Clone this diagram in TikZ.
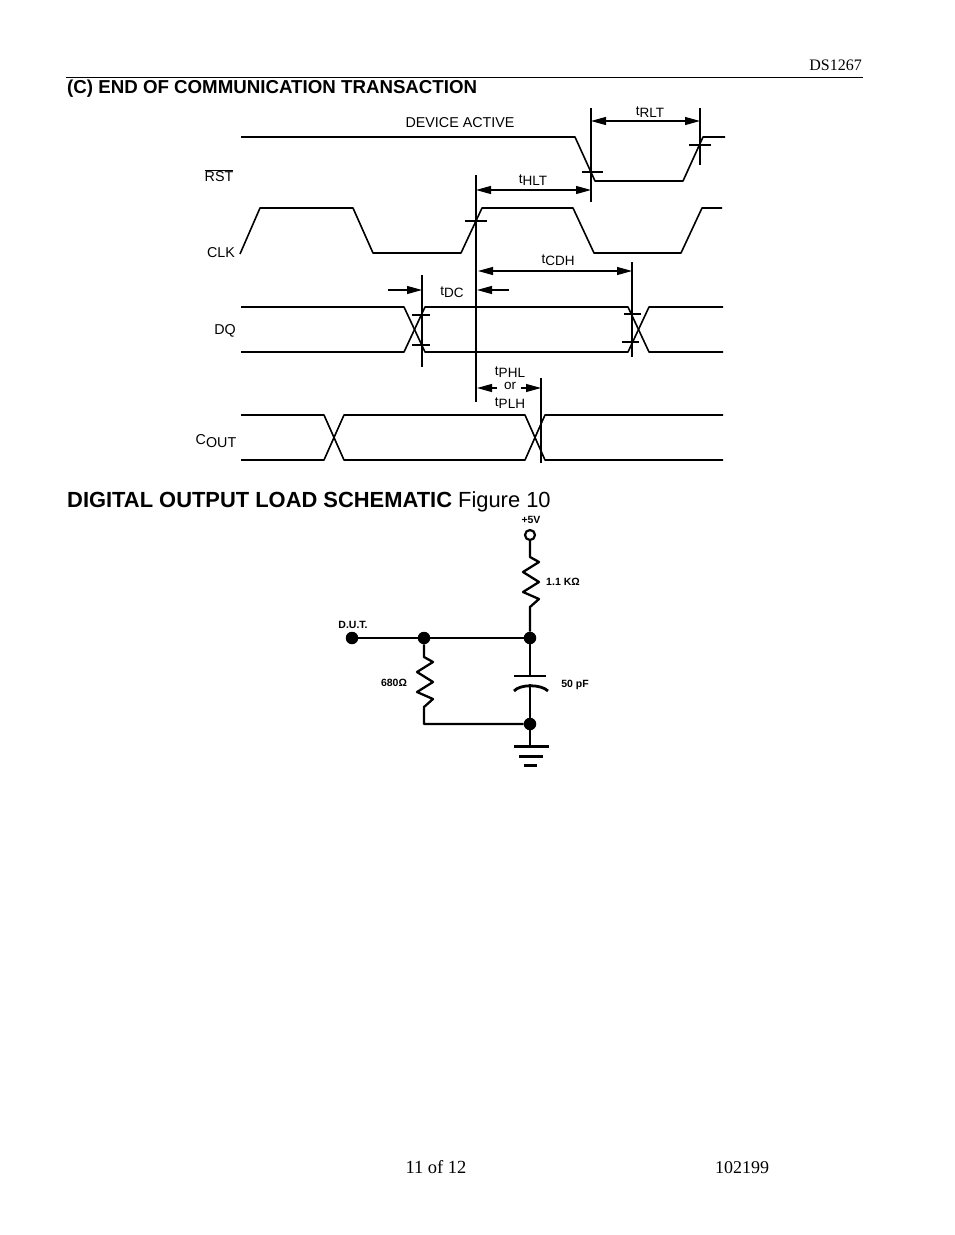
\documentclass[tikz,border=0pt]{standalone}
\usepackage{fontspec}
\setmainfont{Liberation Serif}
\newfontfamily\arialfont{Liberation Sans}
\usetikzlibrary{arrows.meta}
\newcommand{\tsub}[1]{t\raisebox{-2.5pt}{#1}}
\begin{document}
\begin{tikzpicture}[x = 1pt,y = -1pt,
	every node/.style={inner sep = 0pt,text = black},
	wave/.style={line width = 1.6pt,line join = round},
	wire/.style={line width = 2.3pt,line join = round},
	marker/.style={line width = 1.1pt},
	dim/.style={line width = 1.1pt,-{Triangle[length = 15pt,width = 8pt]}},
	dimboth/.style={line width = 1.1pt,{Triangle[length = 15pt,width = 8pt]}-{Triangle[length = 15pt,width = 8pt]}},
	page/.style={font = \fontsize{16}{18}\selectfont},
	head/.style={font = \arialfont\bfseries\fontsize{18.7}{20}\selectfont,anchor = west},
	sig/.style={font = \arialfont\fontsize{14.3}{16}\selectfont},
	tlab/.style={font = \arialfont\fontsize{13.5}{15}\selectfont},
	small/.style={font = \arialfont\bfseries\fontsize{10.5}{12}\selectfont},
	dot/.style={circle,fill = black,minimum size = 12.5pt}]
	
	\useasboundingbox (0,0) rectangle (954,1235);
	
	\node[page,anchor = east] (partno) at (862,65) {DS1267};
	\coordinate (ruleL) at (66,77);
	\coordinate (ruleR) at (863,77);
	\draw[line width = 1pt] (ruleL) -- (ruleR);
	\node[head] (endtitle) at (67,88.5) {(C) END OF COMMUNICATION TRANSACTION};
	\node[head,font = \arialfont\fontsize{21.9}{24}\selectfont] (loadtitle) at (67,502) {\textbf{DIGITAL OUTPUT LOAD SCHEMATIC} Figure 10};
	\node[page,font = \fontsize{18.5}{20}\selectfont,anchor = base] (pagenum) at (436,1173) {11 of 12};
	\node[page,font = \fontsize{18}{20}\selectfont,anchor = base] (datecode) at (742,1173) {102199};
	
	\node[sig] (active) at (460,123) {DEVICE ACTIVE};
	\node[sig] (rst) at (219,176) {$\overline{\mbox{RST}}$};
	\node[sig] (clk) at (221,253) {CLK};
	\node[sig] (dq) at (225,331) {DQ};
	\node[sig] (cout) at (216,441) {C\raisebox{-2.5pt}{OUT}};
	
	\draw[wave] (241,137) -- (575,137) -- (595,181) -- (683,181) -- (703,137) -- (725,137);
	\draw[wave] (240,254) -- (260,208) -- (353,208) -- (373,253) -- (461,253) -- (482,208) -- (573,208) -- (594,253) -- (681,253) -- (702,208) -- (722,208);
	\draw[wave] (241,307) -- (404,307) -- (425,352) -- (628,352) -- (649,307) -- (723,307);
	\draw[wave] (241,352) -- (404,352) -- (425,307) -- (628,307) -- (649,352) -- (723,352);
	\draw[wave] (241,415) -- (324,415) -- (344,460) -- (525,460) -- (545,415) -- (723,415);
	\draw[wave] (241,460) -- (324,460) -- (344,415) -- (525,415) -- (545,460) -- (723,460);
	
	\coordinate (riseT) at (476,175);
	\coordinate (riseB) at (476,402);
	\coordinate (fallT) at (591,108);
	\coordinate (fallB) at (591,202);
	\coordinate (backT) at (700,108);
	\coordinate (backB) at (700,165);
	\coordinate (holdT) at (632,262);
	\coordinate (holdB) at (632,357);
	\coordinate (setupT) at (422,275);
	\coordinate (setupB) at (422,367);
	\coordinate (propT) at (541,378);
	\coordinate (propB) at (541,463);
	\foreach \top/\bot in {riseT/riseB,fallT/fallB,backT/backB,holdT/holdB,setupT/setupB,propT/propB}
		\draw[marker] (\top) -- (\bot);
	
	\foreach \xa/\xb/\yy in {582/603/172,689/711/145,465/487/221,412/430/315,412/430/345,624/641/314,622/639/342}
		\draw[marker] (\xa,\yy) -- (\xb,\yy);
	
	\coordinate (rltL) at (591,121);
	\coordinate (rltR) at (700,121);
	\coordinate (hltL) at (476,190);
	\coordinate (hltR) at (591,190);
	\coordinate (cdhL) at (478,271);
	\coordinate (cdhR) at (632,271);
	\coordinate (dcA) at (388,290);
	\coordinate (dcB) at (422,290);
	\coordinate (dcC) at (509,290);
	\coordinate (dcD) at (477,290);
	\coordinate (phlA) at (497,388);
	\coordinate (phlB) at (477,388);
	\coordinate (phlC) at (521,388);
	\coordinate (phlD) at (541,388);
	\draw[dimboth] (rltL) -- (rltR);
	\draw[dimboth] (hltL) -- (hltR);
	\draw[dimboth] (cdhL) -- (cdhR);
	\draw[dim] (dcA) -- (dcB);
	\draw[dim] (dcC) -- (dcD);
	\draw[dim] (phlA) -- (phlB);
	\draw[dim] (phlC) -- (phlD);
	
	\node[tlab] (trlt) at (650,112) {\tsub{RLT}};
	\node[tlab] (thlt) at (533,180) {\tsub{HLT}};
	\node[tlab] (tcdh) at (558,260) {\tsub{CDH}};
	\node[tlab] (tdc) at (452,292) {\tsub{DC}};
	\node[tlab] (tphl) at (510,372) {\tsub{PHL}};
	\node[tlab] (tor) at (510,386) {or};
	\node[tlab] (tplh) at (510,403) {\tsub{PLH}};
	
	\node[small] (vcc) at (531,520) {+5V};
	\node[circle,draw,line width = 2.2pt,minimum size = 10pt] (vccpin) at (530,535) {};
	\coordinate (rupT) at (530,557);
	\coordinate (rupB) at (530,607);
	\node[dot] (outj) at (530,638) {};
	\node[dot] (dut) at (352,638) {};
	\node[small] (dutlab) at (353,625) {D.U.T.};
	\node[dot] (tapj) at (424,638) {};
	\coordinate (rloT) at (424,657);
	\coordinate (rloB) at (424,707);
	\coordinate (capT) at (530,676);
	\coordinate (capB) at (530,684);
	\coordinate (capTL) at (514,676);
	\coordinate (capTR) at (546,676);
	\coordinate (capBL) at (514,691);
	\coordinate (capBR) at (548,691);
	\node[dot] (gndj) at (530,724) {};
	\coordinate (gnd) at (530,746);
	\coordinate (gndAL) at (514,746);
	\coordinate (gndAR) at (549,746);
	\coordinate (gndBL) at (519,756);
	\coordinate (gndBR) at (543,756);
	\coordinate (gndCL) at (524,765);
	\coordinate (gndCR) at (537,765);
	\coordinate (lowcorner) at (424,724);
	
	\draw[wire] (vccpin) -- (rupT) -- ++(9,5) -- ++(-16,10) -- ++(16,10) -- ++(-16,10) -- ++(16,7) -- (rupB) -- (outj);
	\draw[wire] (dut) -- (tapj) -- (outj);
	\draw[wire] (tapj) -- (rloT) -- ++(9,5) -- ++(-16,10) -- ++(16,10) -- ++(-16,10) -- ++(16,7) -- (rloB) -- (lowcorner) -- (gndj);
	\draw[wire] (outj) -- (capT);
	\draw[wire,line width = 2.8pt] (capTL) -- (capTR);
	\draw[wire,line width = 2.8pt] (capBL) .. controls (520,684) and (541,684) .. (capBR);
	\draw[wire] (capB) -- (gndj);
	\draw[wire] (gndj) -- (gnd);
	\draw[wire,line width = 3pt] (gndAL) -- (gndAR);
	\draw[wire,line width = 3pt] (gndBL) -- (gndBR);
	\draw[wire,line width = 3pt] (gndCL) -- (gndCR);
	
	\node[small] (r1val) at (563,582) {1.1 KΩ};
	\node[small] (r2val) at (394,683) {680Ω};
	\node[small] (cval) at (575,685) {50 pF};
	
\end{tikzpicture}
\end{document}
